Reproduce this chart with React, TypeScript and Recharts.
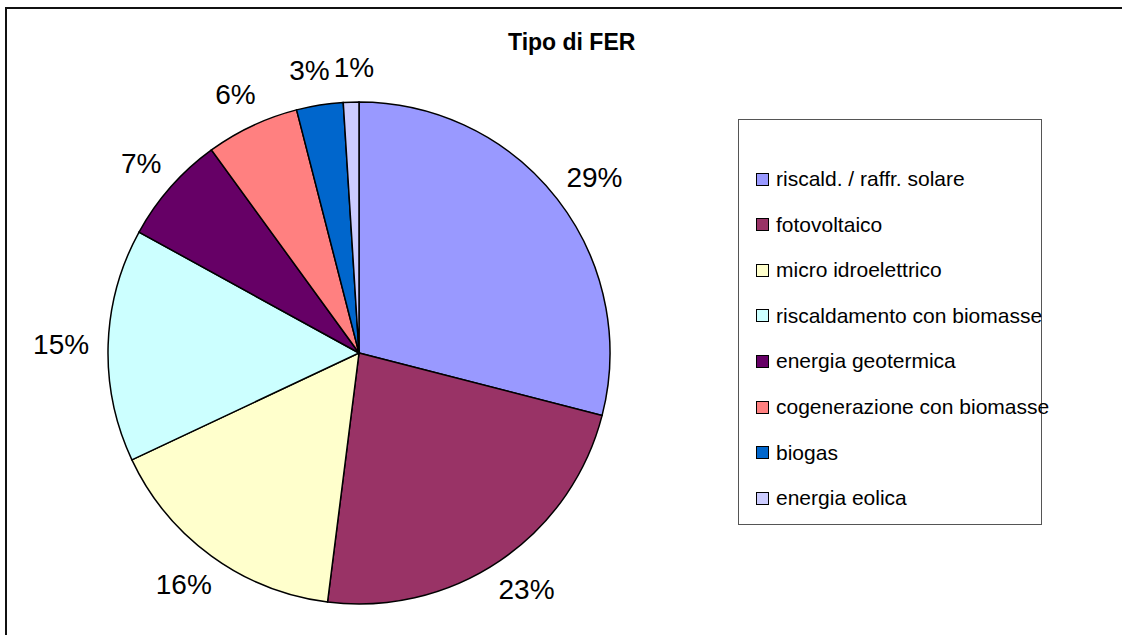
import React from 'react';
import { PieChart, Pie, Cell, Legend } from 'recharts';

const categories = [
  'riscald. / raffr. solare',
  'fotovoltaico',
  'micro idroelettrico',
  'riscaldamento con biomasse',
  'energia geotermica',
  'cogenerazione con biomasse',
  'biogas',
  'energia eolica',
];

const shares = [29, 23, 16, 15, 7, 6, 3, 1];

const colors = ['#9999FF', '#993366', '#FFFFCC', '#CCFFFF', '#660066', '#FF8080', '#0066CC', '#CCCCFF'];

const data = categories.map((name, i) => ({ name, value: shares[i], fill: colors[i] }));

const FONT = '"Liberation Sans", Arial, Helvetica, sans-serif';
const RADIAN = Math.PI / 180;
const LABEL_SIZE = 28;
const LABEL_GAP = 19;

// width of a "NN%" label in Arial metrics
const labelWidth = (text: string) =>
  (text.replace('%', '').length * 0.556 + 0.889) * LABEL_SIZE;

// label centers relative to the pie centre, spread apart when neighbours collide
const labelOffsets = (radius: number) => {
  const total = shares.reduce((a, b) => a + b, 0);
  let acc = 0;
  const out = shares.map((v) => {
    const mid = 90 - ((acc + v / 2) / total) * 360;
    acc += v;
    const text = `${Math.round((v / total) * 100)}%`;
    const w = labelWidth(text);
    const h = 1.15 * LABEL_SIZE;
    const cos = Math.cos(mid * RADIAN);
    const sin = -Math.sin(mid * RADIAN);
    const d = radius + LABEL_GAP;
    return {
      text,
      w,
      h,
      dx: d * cos + (w / 2) * cos,
      dy: d * sin + (h / 2) * sin,
    };
  });
  for (let i = 1; i < out.length; i++) {
    const a = out[i - 1];
    const b = out[i];
    const overlapX = (a.w + b.w) / 2 + 4 - Math.abs(a.dx - b.dx);
    const overlapY = (a.h + b.h) / 2 - Math.abs(a.dy - b.dy);
    if (overlapX > 0 && overlapY > 0) {
      const dir = b.dx > a.dx ? 1 : -1;
      a.dx -= (dir * overlapX) / 2;
      b.dx += (dir * overlapX) / 2;
    }
  }
  return out;
};

const renderLabel = (props: any) => {
  const { cx, cy, outerRadius, index } = props;
  const l = labelOffsets(outerRadius)[index];
  return (
    <text
      x={cx + l.dx}
      y={cy + l.dy}
      textAnchor="middle"
      dominantBaseline="central"
      fill="#000"
      style={{ fontFamily: FONT, fontSize: LABEL_SIZE }}
    >
      {l.text}
    </text>
  );
};

const renderLegend = () => (
  <div
    style={{
      width: 304,
      height: 406,
      border: '1px solid #555',
      boxSizing: 'border-box',
      position: 'relative',
      fontFamily: FONT,
      fontSize: 21,
      color: '#000',
    }}
  >
    {categories.map((name, i) => (
      <div
        key={name}
        style={{
          position: 'absolute',
          left: 17,
          top: 59 + i * 45.6 - 12,
          height: 24,
          display: 'flex',
          alignItems: 'center',
          whiteSpace: 'nowrap',
        }}
      >
        <span
          style={{
            display: 'inline-block',
            width: 11,
            height: 11,
            background: colors[i],
            border: '1.5px solid #000',
            marginRight: 7,
          }}
        />
        <span>{name}</span>
      </div>
    ))}
  </div>
);

export default function App() {
  return (
    <div style={{ position: 'fixed', left: 0, top: 0, width: 1122, height: 635, background: '#fff' }}>
      <div
        style={{
          position: 'absolute',
          left: 5,
          top: 7,
          width: 1117,
          height: 628,
          borderTop: '2px solid #111',
          borderLeft: '2px solid #111',
          boxSizing: 'border-box',
        }}
      />
      <div
        style={{
          position: 'absolute',
          left: 508,
          top: 31,
          fontFamily: FONT,
          fontWeight: 'bold',
          fontSize: 23,
          lineHeight: '23px',
          color: '#000',
          whiteSpace: 'nowrap',
        }}
      >
        Tipo di FER
      </div>
      <PieChart
        width={1122}
        height={635}
        margin={{ top: 0, right: 0, bottom: 0, left: 0 }}
        style={{ position: 'absolute', left: 0, top: 0 }}
      >
        <Pie
          data={data}
          dataKey="value"
          nameKey="name"
          cx={359}
          cy={353}
          outerRadius={251}
          startAngle={90}
          endAngle={-270}
          stroke="#000"
          strokeWidth={1.5}
          label={renderLabel}
          labelLine={false}
          isAnimationActive={false}
        >
          {data.map((d, i) => (
            <Cell key={d.name} fill={colors[i]} />
          ))}
        </Pie>
        <Legend
          layout="vertical"
          align="right"
          verticalAlign="top"
          content={renderLegend}
          wrapperStyle={{ position: 'absolute', left: 738, top: 119, width: 304, height: 406 }}
        />
      </PieChart>
    </div>
  );
}
